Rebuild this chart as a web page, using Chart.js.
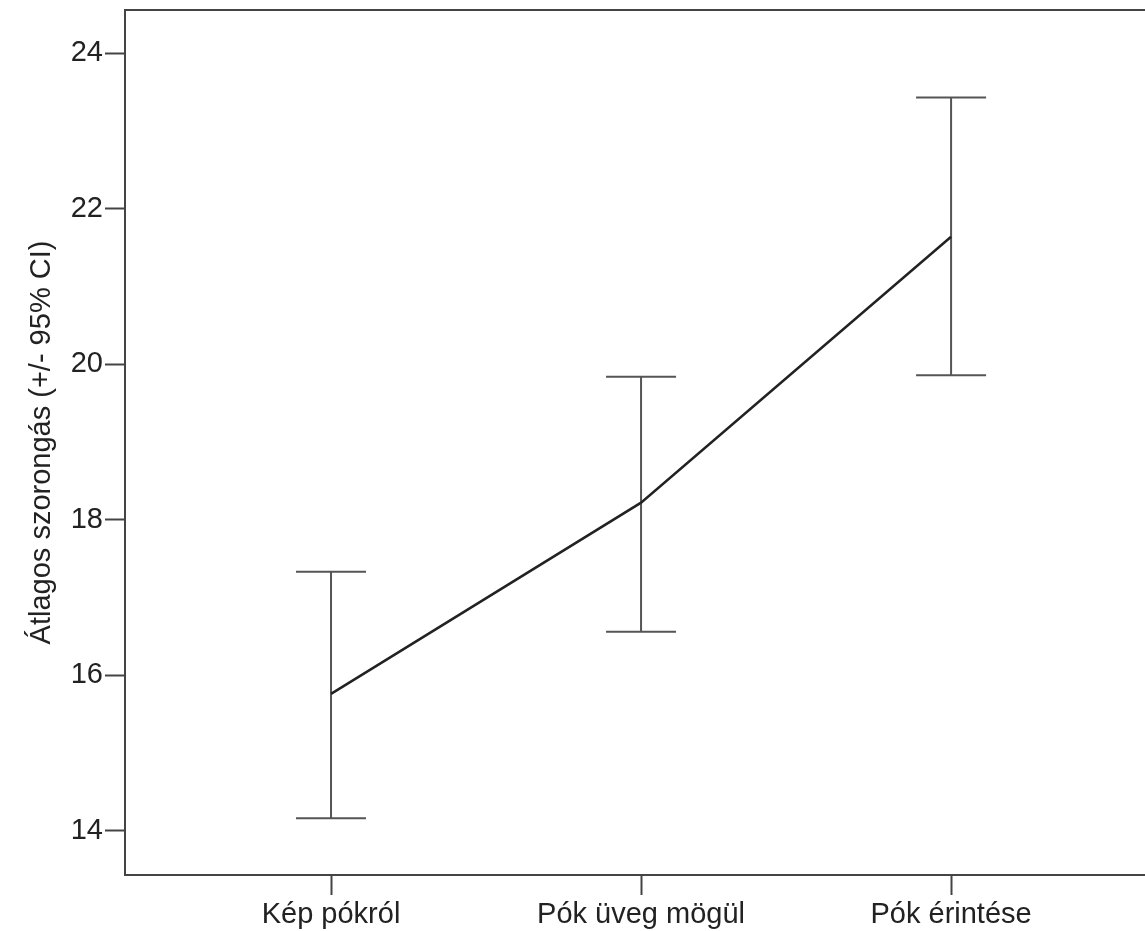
<!DOCTYPE html>
<html>
<head>
    <title>Átlagos szorongás</title>
    <script src="https://cdn.jsdelivr.net/npm/chart.js"></script>
    <style>
        html, body { margin: 0; padding: 0; background: #fff; overflow: hidden; }
    </style>
</head>
<body>
    <canvas id="myChart" width="1170" height="931"></canvas>

    <script>
        // adatok
        const categories = ['Kép pókról', 'Pók üveg mögül', 'Pók érintése'];
        const means = [15.76, 18.22, 21.64];
        const ciLower = [14.16, 16.56, 19.86];
        const ciUpper = [17.33, 19.84, 23.43];
        const yTicks = [14, 16, 18, 20, 22, 24];
        const yTitle = 'Átlagos szorongás (+/- 95% CI)';

        Chart.defaults.font.family = "'Liberation Sans', Arial, sans-serif";
        Chart.defaults.color = '#222';

        // hibasávok (95% CI) + keret
        const errorBars = {
            id: 'errorBars',
            beforeDatasetsDraw(chart) {
                const c = chart.ctx;
                const xs = chart.scales.x, ys = chart.scales.y;
                c.save();
                c.strokeStyle = '#555';
                c.lineWidth = 2;
                for (let i = 0; i < categories.length; i++) {
                    const px = xs.getPixelForValue(i);
                    const top = ys.getPixelForValue(ciUpper[i]);
                    const bot = ys.getPixelForValue(ciLower[i]);
                    c.beginPath();
                    c.moveTo(px, top); c.lineTo(px, bot);
                    c.moveTo(px - 35, top); c.lineTo(px + 35, top);
                    c.moveTo(px - 35, bot); c.lineTo(px + 35, bot);
                    c.stroke();
                }
                // felső keret
                const a = chart.chartArea;
                c.strokeStyle = '#444';
                c.beginPath();
                c.moveTo(a.left, a.top); c.lineTo(a.right, a.top);
                c.lineTo(a.right, a.bottom);
                c.stroke();
                c.restore();
            }
        };

        const ctx = document.getElementById('myChart').getContext('2d');
        const chart = new Chart(ctx, {
            type: 'line',
            data: {
                datasets: [{
                    label: 'Átlag',
                    data: means.map((m, i) => ({ x: i, y: m })),
                    borderColor: '#222',
                    borderWidth: 2.5,
                    pointRadius: 0,
                    fill: false,
                    tension: 0
                }]
            },
            options: {
                responsive: false,
                animation: false,
                layout: { padding: { top: 10, right: 5, left: 0, bottom: 0 } },
                plugins: {
                    legend: { display: false },
                    tooltip: { enabled: false }
                },
                scales: {
                    x: {
                        type: 'linear',
                        min: -0.6645,
                        max: 2.69,
                        afterBuildTicks: s => { s.ticks = categories.map((_, i) => ({ value: i })); },
                        afterFit: s => { s.height = 56; s.paddingLeft = 0; s.paddingRight = 0; },
                        ticks: {
                            callback: v => categories[v],
                            font: { size: 29 },
                            color: '#222',
                            padding: 3,
                            maxRotation: 0
                        },
                        grid: {
                            drawOnChartArea: false,
                            drawTicks: true,
                            tickLength: 20,
                            tickWidth: 2,
                            tickColor: '#444'
                        },
                        border: { display: true, color: '#444', width: 2 }
                    },
                    y: {
                        min: 13.43,
                        max: 24.557,
                        afterBuildTicks: s => { s.ticks = yTicks.map(v => ({ value: v })); },
                        afterFit: s => { s.width = 125; s.paddingTop = 0; s.paddingBottom = 0; },
                        ticks: {
                            font: { size: 29 },
                            color: '#222',
                            padding: 2
                        },
                        grid: {
                            drawOnChartArea: false,
                            drawTicks: true,
                            tickLength: 20,
                            tickWidth: 2,
                            tickColor: '#444'
                        },
                        border: { display: true, color: '#444', width: 2 },
                        title: {
                            display: true,
                            text: yTitle,
                            font: { size: 29 },
                            color: '#222',
                            padding: { top: 25, bottom: 0 }
                        }
                    }
                }
            },
            plugins: [errorBars]
        });
    </script>
</body>
</html>
